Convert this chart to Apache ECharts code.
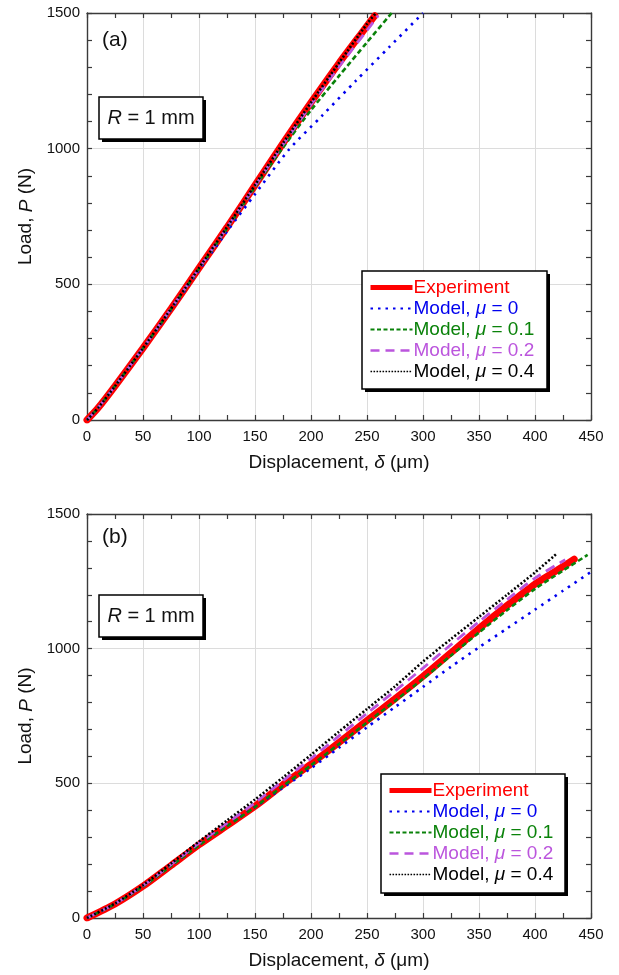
<!DOCTYPE html>
<html>
<head>
<meta charset="utf-8">
<script src="https://cdn.jsdelivr.net/npm/echarts@6/dist/echarts.min.js"></script>
<style>
  html, body { margin: 0; padding: 0; background: #fff; }
  #chart { width: 619px; height: 975px; }
</style>
</head>
<body>
<div id="chart"></div>
<script>
// Load–displacement data, [displacement (µm), load (N)]
// Panel (a)
const expA  = [[0,0],[10,45],[25,125],[50,265],[75,410],[100,560],[125,710],[150,865],[175,1020],[200,1170],[225,1315],[245,1425],[257,1490]];
const mu0A  = [[0,0],[10,45],[25,124],[50,263],[75,405],[100,552],[125,695],[150,832],[180,995],[210,1122],[240,1250],[270,1375],[300,1500]];
const mu01A = [[0,0],[10,45],[25,125],[50,264],[75,408],[100,557],[125,706],[150,858],[175,1004],[200,1142],[225,1268],[250,1392],[272,1500]];
const mu02A = [[0,0],[10,45],[25,125],[50,265],[75,410],[100,559],[125,709],[150,862],[175,1015],[200,1162],[225,1302],[250,1436],[260,1490]];
const mu04A = [[0,0],[10,45],[25,125],[50,265],[75,410],[100,560],[125,711],[150,866],[175,1020],[200,1170],[225,1316],[250,1460],[258,1500]];

// Panel (b)
const expB  = [[0,0],[25,52],[50,118],[75,195],[100,272],[125,343],[150,415],[175,495],[200,572],[225,652],[250,733],[275,814],[300,897],[325,985],[350,1075],[375,1160],[400,1240],[420,1292],[435,1332]];
const mu0B  = [[0,0],[25,52],[50,118],[75,195],[100,272],[125,343],[150,412],[175,484],[200,556],[225,632],[250,708],[275,783],[300,858],[325,933],[350,1005],[375,1075],[400,1145],[425,1215],[450,1285]];
const mu01B = [[0,0],[25,52],[50,117],[75,193],[100,270],[125,341],[150,412],[175,490],[200,567],[225,646],[250,726],[275,806],[300,888],[325,975],[350,1060],[375,1143],[400,1222],[425,1290],[447,1348]];
const mu02B = [[0,0],[25,53],[50,120],[75,198],[100,278],[125,352],[150,428],[175,510],[200,592],[225,676],[250,760],[275,843],[300,928],[325,1015],[350,1100],[375,1182],[400,1262],[427,1330]];
const mu04B = [[0,0],[25,54],[50,122],[75,202],[100,284],[125,362],[150,440],[175,522],[200,606],[225,692],[250,776],[275,860],[300,952],[325,1036],[350,1118],[375,1200],[400,1283],[420,1355]];

const seriesNames = ['Experiment', 'Model, μ = 0', 'Model, μ = 0.1', 'Model, μ = 0.2', 'Model, μ = 0.4'];
const panelLabels = ['(a)', '(b)'];
const xTicks = { min: 0, max: 450, interval: 50 };
const yTicks = { min: 0, max: 1500, interval: 500 };

const FONT = "'Liberation Sans', Arial, sans-serif";
const FRAME = '#3a3a3a';
const GRIDLINE = '#dcdcdc';

const styles = [
  { color: '#ff0000', width: 7,   type: 'solid',  cap: 'round' },
  { color: '#0000ee', width: 2.6, type: [2.5, 5.5], cap: 'butt' },
  { color: '#0a820a', width: 2.6, type: [5, 3],   cap: 'butt' },
  { color: '#bb55dd', width: 2.8, type: [10, 6],  cap: 'butt' },
  { color: '#000000', width: 2.6, type: [2, 2],   cap: 'butt' }
];
const legendLine = [
  { width: 5, type: 'solid' },
  { width: 2, type: [2.5, 5] },
  { width: 2, type: [4, 2.5] },
  { width: 2.5, type: [9, 6] },
  { width: 1.6, type: [1.6, 1.4] }
];

const grids = [
  { left: 87, top: 13, width: 504, height: 407 },
  { left: 87, top: 514, width: 504, height: 404 }
];

function frameAxisLine() {
  return { show: true, onZero: false, lineStyle: { color: FRAME, width: 1.4 } };
}
function tickStyle(split) {
  return {
    axisTick: { show: true, inside: true, length: 5, lineStyle: { color: FRAME, width: 1.2 } },
    minorTick: { show: true, splitNumber: split, length: 5, lineStyle: { color: FRAME, width: 1.2 } }
  };
}
const nameStyle = { color: '#111', fontSize: 19, fontFamily: FONT,
  rich: { i: { fontStyle: 'italic', fontSize: 19, fontFamily: FONT, color: '#111' } } };

function mainX(gi) {
  return Object.assign({
    type: 'value', gridIndex: gi, position: 'bottom',
    min: xTicks.min, max: xTicks.max, interval: xTicks.interval,
    axisLine: frameAxisLine(),
    splitLine: { show: true, lineStyle: { color: GRIDLINE, width: 1 } },
    axisLabel: { color: '#111', fontSize: 15, fontFamily: FONT, margin: 9, formatter: v => String(v) },
    name: 'Displacement, {i|δ} (μm)',
    nameLocation: 'middle', nameGap: 33, nameTextStyle: nameStyle
  }, tickStyle(2));
}
function topX(gi) {
  return Object.assign({
    type: 'value', gridIndex: gi, position: 'top',
    min: xTicks.min, max: xTicks.max, interval: xTicks.interval,
    axisLine: frameAxisLine(), splitLine: { show: false }, axisLabel: { show: false }
  }, tickStyle(2));
}
function mainY(gi) {
  return Object.assign({
    type: 'value', gridIndex: gi, position: 'left',
    min: yTicks.min, max: yTicks.max, interval: yTicks.interval,
    axisLine: frameAxisLine(),
    splitLine: { show: true, lineStyle: { color: GRIDLINE, width: 1 } },
    axisLabel: { color: '#111', fontSize: 15, fontFamily: FONT, margin: 7, formatter: v => String(v) },
    name: 'Load, {i|P} (N)',
    nameLocation: 'middle', nameGap: 47, nameTextStyle: nameStyle
  }, tickStyle(5));
}
function rightY(gi) {
  return Object.assign({
    type: 'value', gridIndex: gi, position: 'right',
    min: yTicks.min, max: yTicks.max, interval: yTicks.interval,
    axisLine: frameAxisLine(), splitLine: { show: false }, axisLabel: { show: false }
  }, tickStyle(5));
}

const panelData = [
  [expA, mu0A, mu01A, mu02A, mu04A],
  [expB, mu0B, mu01B, mu02B, mu04B]
];

const series = [];
panelData.forEach((sets, gi) => {
  sets.forEach((d, k) => {
    const s = styles[k];
    series.push({
      type: 'line', name: seriesNames[k],
      xAxisIndex: gi * 2, yAxisIndex: gi * 2,
      data: d, showSymbol: false, symbol: 'none', smooth: 0.25,
      z: 2 + k, clip: true,
      lineStyle: { color: s.color, width: s.width, type: s.type, cap: s.cap },
      itemStyle: { color: s.color }
    });
  });
});

function makeLegend(left, top) {
  return {
    orient: 'vertical', left: left, top: top, z: 20,
    padding: [7, 9, 6, 6], itemGap: 2, itemWidth: 42, itemHeight: 19,
    selectedMode: false,
    textStyle: { fontSize: 19, fontFamily: FONT, padding: [0, 0, 0, -4],
      rich: {
        m0: { fontStyle: 'italic', fontSize: 19, fontFamily: FONT, color: styles[1].color },
        m1: { fontStyle: 'italic', fontSize: 19, fontFamily: FONT, color: styles[2].color },
        m2: { fontStyle: 'italic', fontSize: 19, fontFamily: FONT, color: styles[3].color },
        m4: { fontStyle: 'italic', fontSize: 19, fontFamily: FONT, color: styles[4].color }
      } },
    formatter: function (name) {
      const idx = seriesNames.indexOf(name);
      const key = ['', 'm0', 'm1', 'm2', 'm4'][idx];
      return key ? name.replace('μ', '{' + key + '|μ}') : name;
    },
    data: seriesNames.map((n, k) => ({
      name: n,
      textStyle: { color: styles[k].color },
      // line sample only, no marker
      itemStyle: { color: styles[k].color, opacity: 0 },
      lineStyle: { color: styles[k].color, opacity: 1, width: legendLine[k].width, type: legendLine[k].type, cap: 'butt' }
    }))
  };
}

// Framed boxes with a hard black drop shadow
function shadowBox(x, y, w, h) {
  return [
    { type: 'rect', z: 10, silent: true, shape: { x: x + 3, y: y + 3, width: w, height: h },
      style: { fill: '#000' } },
    { type: 'rect', z: 11, silent: true, shape: { x: x, y: y, width: w, height: h },
      style: { fill: '#fff', stroke: '#000', lineWidth: 1.5 } }
  ];
}
function radiusNote(x, y, w, h) {
  return shadowBox(x, y, w, h).concat([{
    type: 'text', z: 12, silent: true, x: x + w / 2, y: y + h / 2,
    style: { text: '{i|R} = 1 mm', fill: '#111', fontSize: 20, fontFamily: FONT,
      align: 'center', verticalAlign: 'middle',
      rich: { i: { fontStyle: 'italic', fontSize: 20, fontFamily: FONT, fill: '#111' } } }
  }]);
}

const chart = echarts.init(document.getElementById('chart'), null, { renderer: 'canvas' });
chart.setOption({
  animation: false,
  backgroundColor: '#fff',
  title: [
    { text: panelLabels[0], left: 102, top: 30, padding: 0,
      textStyle: { fontSize: 21, fontWeight: 'normal', fontFamily: FONT, color: '#111' } },
    { text: panelLabels[1], left: 102, top: 527, padding: 0,
      textStyle: { fontSize: 21, fontWeight: 'normal', fontFamily: FONT, color: '#111' } }
  ],
  graphic: []
    .concat(radiusNote(99, 97, 104, 42))
    .concat(radiusNote(99, 595, 104, 42))
    .concat(shadowBox(362, 271, 185, 118))
    .concat(shadowBox(381, 774, 184, 119)),
  legend: [makeLegend(362, 271), makeLegend(381, 774)],
  grid: grids,
  xAxis: [mainX(0), topX(0), mainX(1), topX(1)],
  yAxis: [mainY(0), rightY(0), mainY(1), rightY(1)],
  series: series
});
</script>
</body>
</html>
